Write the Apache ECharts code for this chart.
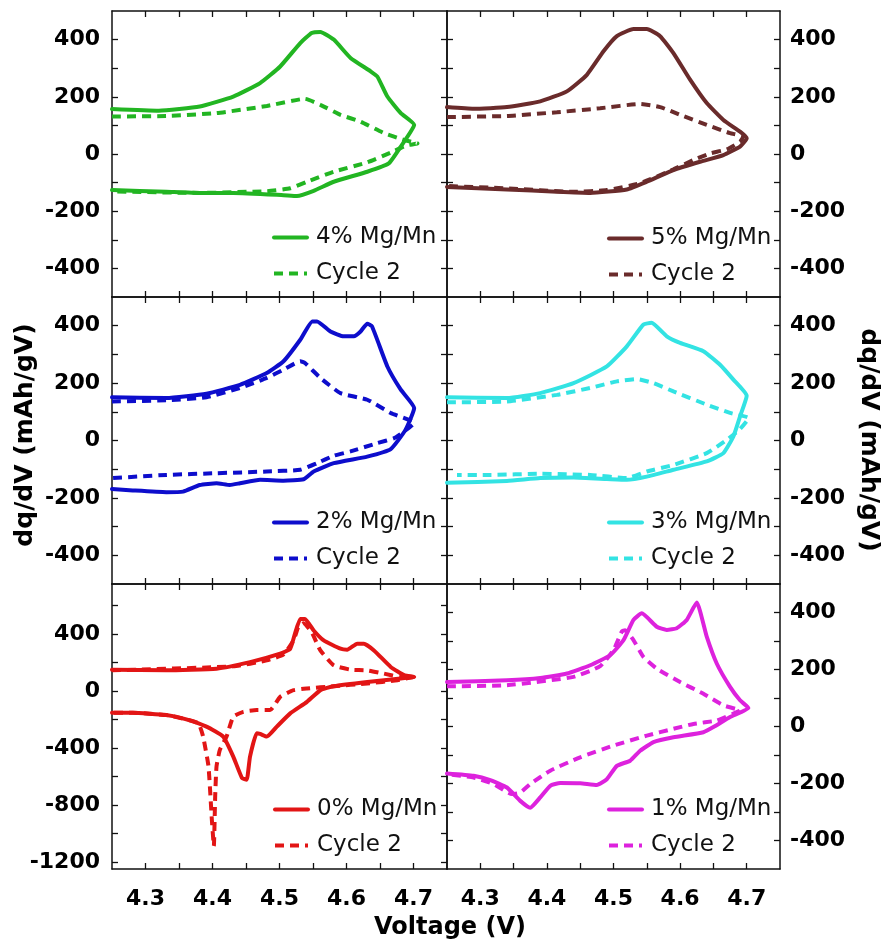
<!DOCTYPE html>
<html>
<head>
<meta charset="utf-8">
<script src="https://cdn.jsdelivr.net/npm/echarts@6/dist/echarts.min.js"></script>
<style>
html,body{margin:0;padding:0;background:#fff;}
#chart{width:884px;height:943px;}
</style>
</head>
<body>
<div id="chart"></div>
<script>
// ---------- data (Voltage V, dq/dV mAh/gV) ----------
const mg4Cycle1 = [[4.25,157],[4.32,151],[4.381,166],[4.431,201],[4.471,248],[4.501,306],[4.531,388],[4.548,423],[4.561,427],[4.581,400],[4.606,336],[4.636,289],[4.646,271],[4.661,201],[4.681,143],[4.701,102],
  [4.681,26],[4.663,-33],[4.631,-62],[4.581,-97],[4.551,-129],[4.526,-147],[4.506,-144],[4.431,-136],[4.381,-136],[4.331,-132],[4.25,-126]];
const mg4Cycle2 = [[4.25,131],[4.331,133],[4.406,143],[4.481,168],[4.538,193],[4.561,172],[4.591,137],[4.621,113],[4.656,73],[4.686,49],[4.706,37],
  [4.69,30],[4.666,5],[4.631,-29],[4.581,-62],[4.541,-97],[4.516,-120],[4.481,-130],[4.381,-136],[4.25,-131]];

const mg5Cycle1 = [[4.25,164],[4.29,158],[4.34,164],[4.39,184],[4.43,219],[4.46,277],[4.485,359],[4.505,412],[4.53,437],[4.55,437],[4.57,412],[4.59,353],[4.615,260],[4.64,178],[4.665,119],[4.69,78],[4.70,55],
  [4.69,26],[4.665,-4],[4.63,-27],[4.59,-56],[4.55,-97],[4.52,-124],[4.465,-136],[4.415,-132],[4.34,-124],[4.25,-115]];
const mg5Cycle2 = [[4.25,129],[4.34,133],[4.415,146],[4.48,160],[4.54,175],[4.57,164],[4.60,137],[4.64,102],[4.675,73],[4.695,61],
  [4.69,43],[4.67,16],[4.645,2],[4.62,-21],[4.59,-54],[4.54,-102],[4.49,-126],[4.44,-132],[4.34,-120],[4.25,-112]];

const mg2Cycle1 = [[4.25,151],[4.331,148],[4.391,163],[4.441,194],[4.481,235],[4.506,276],[4.531,351],[4.549,415],[4.556,415],[4.576,380],[4.596,363],[4.611,363],[4.621,380],[4.631,407],[4.638,398],[4.661,258],[4.681,177],[4.701,113],
  [4.688,37],[4.666,-30],[4.631,-56],[4.581,-79],[4.551,-108],[4.536,-135],[4.506,-140],[4.471,-137],[4.441,-149],[4.426,-155],[4.406,-149],[4.381,-155],[4.356,-178],[4.331,-180],[4.281,-174],[4.25,-169]];
const mg2Cycle2 = [[4.25,136],[4.331,140],[4.391,151],[4.441,183],[4.481,218],[4.506,247],[4.531,276],[4.538,270],[4.561,218],[4.591,165],[4.631,142],[4.666,96],[4.701,61],
  [4.685,30],[4.671,8],[4.646,-9],[4.606,-38],[4.581,-53],[4.556,-79],[4.531,-102],[4.481,-108],[4.406,-114],[4.331,-120],[4.25,-131]];

const mg3Cycle1 = [[4.25,151],[4.34,148],[4.39,165],[4.44,200],[4.49,258],[4.52,328],[4.545,404],[4.557,410],[4.58,363],[4.60,340],[4.635,311],[4.66,264],[4.68,212],[4.70,156],
  [4.69,84],[4.68,14],[4.665,-44],[4.64,-73],[4.59,-102],[4.55,-126],[4.52,-137],[4.49,-134],[4.44,-129],[4.39,-131],[4.34,-141],[4.25,-147]];
const mg3Cycle2 = [[4.25,133],[4.34,136],[4.415,159],[4.465,183],[4.505,206],[4.535,214],[4.56,200],[4.59,171],[4.64,125],[4.675,96],[4.703,78],
  [4.69,40],[4.67,2],[4.64,-44],[4.59,-85],[4.55,-108],[4.52,-131],[4.465,-120],[4.39,-116],[4.315,-120],[4.265,-120]];

const mg0Cycle1 = [[4.25,149],[4.331,144],[4.406,156],[4.456,202],[4.501,261],[4.516,296],[4.523,400],[4.531,505],[4.538,505],[4.551,424],[4.566,354],[4.591,296],[4.601,289],[4.616,331],[4.626,331],[4.641,284],[4.666,168],[4.686,110],[4.701,98],
  [4.681,87],[4.631,63],[4.581,33],[4.561,5],[4.541,-77],[4.516,-158],[4.496,-251],[4.481,-321],[4.471,-302],[4.466,-297],[4.456,-461],[4.451,-623],[4.444,-611],[4.431,-461],[4.416,-321],[4.391,-251],[4.361,-200],[4.331,-170],[4.281,-154],[4.25,-154]];
const mg0Cycle2 = [[4.25,144],[4.431,172],[4.481,214],[4.506,256],[4.521,354],[4.528,447],[4.536,475],[4.548,412],[4.561,284],[4.581,179],[4.606,149],[4.631,144],[4.656,121],[4.681,98],[4.701,98],
  [4.676,75],[4.631,52],[4.581,33],[4.541,17],[4.521,5],[4.501,-42],[4.486,-135],[4.466,-135],[4.446,-147],[4.431,-181],[4.421,-321],[4.411,-414],[4.406,-530],[4.404,-740],[4.402,-1089],[4.399,-902],[4.394,-530],[4.386,-321],[4.379,-228],[4.361,-200],[4.331,-170],[4.281,-154],[4.25,-154]];

const mg1Cycle1 = [[4.25,156],[4.34,162],[4.39,170],[4.43,186],[4.465,215],[4.495,250],[4.515,303],[4.53,374],[4.5425,397],[4.565,350],[4.58,339],[4.595,345],[4.61,374],[4.625,435],[4.64,315],[4.655,221],[4.675,139],[4.69,92],[4.7025,65],
  [4.675,33],[4.65,-2],[4.635,-20],[4.59,-38],[4.56,-55],[4.54,-85],[4.525,-120],[4.505,-138],[4.49,-185],[4.475,-205],[4.45,-199],[4.42,-198],[4.405,-208],[4.39,-249],[4.375,-285],[4.36,-261],[4.34,-214],[4.315,-188],[4.29,-173],[4.25,-165]];
const mg1Cycle2 = [[4.25,141],[4.34,145],[4.44,174],[4.48,212],[4.50,268],[4.5125,333],[4.5175,338],[4.53,303],[4.545,244],[4.565,203],[4.60,156],[4.635,115],[4.665,74],[4.69,56],
  [4.68,45],[4.655,21],[4.62,9],[4.59,-8],[4.55,-32],[4.50,-67],[4.45,-108],[4.405,-155],[4.375,-202],[4.36,-232],[4.3475,-237],[4.32,-202],[4.29,-179],[4.25,-167]];

const sampleNames = ['4% Mg/Mn','5% Mg/Mn','2% Mg/Mn','3% Mg/Mn','0% Mg/Mn','1% Mg/Mn'];
const cycle2Label = 'Cycle 2';
const xTickValues = [4.3,4.35,4.4,4.45,4.5,4.55,4.6,4.65,4.7];
const xLabelValues = [4.3,4.4,4.5,4.6,4.7];
const yTickValuesStd = [-400,-300,-200,-100,0,100,200,300,400];
const yLabelValuesStd = [-400,-200,0,200,400];
const yTickValues0 = [-1200,-1000,-800,-600,-400,-200,0,200,400,600];
const yLabelValues0 = [-1200,-800,-400,0,400];

// ---------- layout ----------
const colors = ['#22b522','#6a2b2b','#0d0dcc','#33e3e3','#e21515','#dd22dd'];
const cycle1Data = [mg4Cycle1,mg5Cycle1,mg2Cycle1,mg3Cycle1,mg0Cycle1,mg1Cycle1];
const cycle2Data = [mg4Cycle2,mg5Cycle2,mg2Cycle2,mg3Cycle2,mg0Cycle2,mg1Cycle2];
const grids = [
  {left:112, top:11,  width:335, height:286},
  {left:447, top:11,  width:333, height:286},
  {left:112, top:297, width:335, height:287},
  {left:447, top:297, width:333, height:287},
  {left:112, top:584, width:335, height:285},
  {left:447, top:584, width:333, height:285}
];
const legendPos = [
  {left:272, top:226}, {left:607, top:227},
  {left:272, top:511}, {left:607, top:511},
  {left:273, top:798}, {left:607, top:798}
];
const axisFont = {fontFamily:'DejaVu Sans', fontWeight:'bold', fontSize:22, color:'#000'};
const lineAx = {show:true, onZero:false, lineStyle:{color:'#111', width:1.5}};
const tickStyle = {color:'#111', width:1.3};

const xAxes = [], yAxes = [], series = [], legends = [];
grids.forEach((g, i) => {
  const bottomRow = i >= 4;
  const leftCol = i % 2 === 0;
  const yMin = i === 4 ? -1250 : -500;
  const yMax = i === 4 ? 750 : 500;
  const yTicks = i === 4 ? yTickValues0 : yTickValuesStd;
  const yLabels = i === 4 ? yLabelValues0 : yLabelValuesStd;
  xAxes.push({
    type:'value', gridIndex:i, min:4.25, max:4.75, position:'bottom',
    axisLine:lineAx, splitLine:{show:false},
    axisTick:{show:true, inside:true, length:6, customValues:xTickValues, lineStyle:tickStyle},
    axisLabel:{show:bottomRow, customValues:xLabelValues, margin:19, formatter:v => v.toFixed(1), ...axisFont}
  });
  xAxes.push({
    type:'value', gridIndex:i, min:4.25, max:4.75, position:'top',
    axisLine:lineAx, splitLine:{show:false},
    axisTick:{show:true, inside:true, length:6, customValues:xTickValues, lineStyle:tickStyle},
    axisLabel:{show:false}
  });
  yAxes.push({
    type:'value', gridIndex:i, min:yMin, max:yMax, position: leftCol ? 'left' : 'right',
    axisLine:lineAx, splitLine:{show:false},
    axisTick:{show:true, inside:true, length:6, customValues:yTicks, lineStyle:tickStyle},
    axisLabel:{show:true, customValues:yLabels, margin: leftCol ? 12 : 10, formatter:v => String(v), ...axisFont}
  });
  yAxes.push({
    type:'value', gridIndex:i, min:yMin, max:yMax, position: leftCol ? 'right' : 'left',
    axisLine:lineAx, splitLine:{show:false},
    axisTick:{show:true, inside:true, length:6, customValues:yTicks, lineStyle:tickStyle},
    axisLabel:{show:false}
  });
  const c2name = cycle2Label + '#' + i;
  series.push({
    type:'line', name:sampleNames[i], xAxisIndex:2*i, yAxisIndex:2*i, data:cycle1Data[i],
    symbol:'none', smooth:0.15, color:colors[i],
    lineStyle:{width:4, color:colors[i], cap:'round', join:'round'}, z:3
  });
  series.push({
    type:'line', name:c2name, xAxisIndex:2*i, yAxisIndex:2*i, data:cycle2Data[i],
    symbol:'none', smooth:0.15, color:colors[i],
    lineStyle:{width:4, color:colors[i], type:[9,6], cap:'butt'}, z:2
  });
  legends.push({
    left:legendPos[i].left, top:legendPos[i].top, orient:'vertical', padding:0,
    itemWidth:33, itemHeight:14, itemGap:13, selectedMode:false,
    itemStyle:{opacity:0},
    lineStyle:{width:4},
    data:[sampleNames[i], c2name],
    formatter: n => n.indexOf(cycle2Label) === 0 ? cycle2Label : n,
    textStyle:{fontFamily:'DejaVu Sans', fontSize:23, color:'#111', lineHeight:22, padding:[0,0,0,4]}
  });
});

const chart = echarts.init(document.getElementById('chart'), null, {renderer:'canvas'});
chart.setOption({
  animation:false,
  backgroundColor:'#fff',
  grid: grids.map(g => ({...g, containLabel:false})),
  xAxis: xAxes,
  yAxis: yAxes,
  legend: legends,
  series: series,
  graphic: [
    {type:'text', x:25, y:435, rotation:Math.PI/2,
     style:{text:'dq/dV (mAh/gV)', font:'bold 25px "DejaVu Sans"', fill:'#000', textAlign:'center', textVerticalAlign:'middle'}},
    {type:'text', x:868, y:440, rotation:-Math.PI/2,
     style:{text:'dq/dV (mAh/gV)', font:'bold 25px "DejaVu Sans"', fill:'#000', textAlign:'center', textVerticalAlign:'middle'}},
    {type:'text', x:450, y:928,
     style:{text:'Voltage (V)', font:'bold 24px "DejaVu Sans"', fill:'#000', textAlign:'center', textVerticalAlign:'middle'}}
  ]
});
</script>
</body>
</html>
